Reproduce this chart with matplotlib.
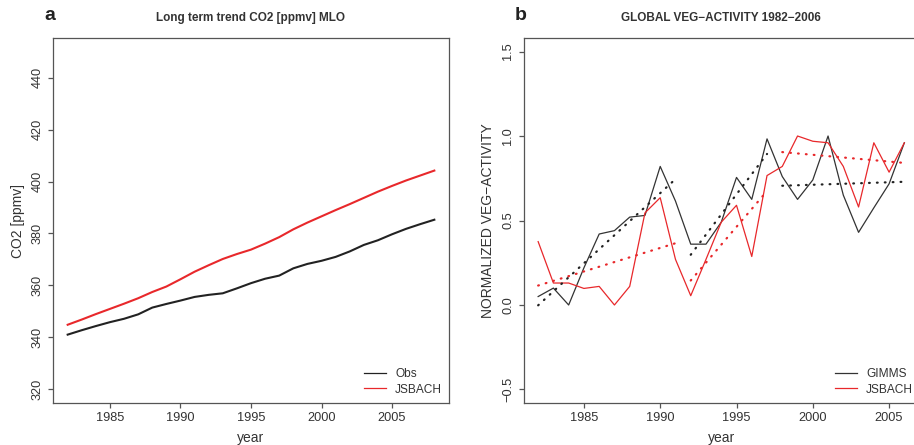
import numpy as np
import matplotlib
matplotlib.use("Agg")
import matplotlib.pyplot as plt

plt.rcParams['font.family'] = ['Liberation Sans', 'DejaVu Sans']

# ---- Panel a data ----
years_a = list(range(1982, 2009))
co2_obs = [341.1, 342.8, 344.4, 345.9, 347.2, 348.9, 351.5, 352.9, 354.2, 355.6,
           356.4, 357.0, 358.9, 360.9, 362.6, 363.8, 366.6, 368.3, 369.5, 371.0,
           373.1, 375.6, 377.4, 379.7, 381.8, 383.6, 385.3]
co2_jsbach = [344.9, 346.9, 349.0, 351.0, 353.0, 355.1, 357.5, 359.6, 362.4, 365.3,
              367.8, 370.2, 372.1, 373.8, 376.1, 378.6, 381.6, 384.2, 386.6, 389.0,
              391.3, 393.7, 396.1, 398.3, 400.4, 402.3, 404.2]

# ---- Panel b data ----
years_b = list(range(1982, 2007))
veg_gimms = [0.05, 0.10, 0.00, 0.22, 0.42, 0.44, 0.52, 0.53, 0.82, 0.615,
             0.36, 0.36, 0.49, 0.755, 0.625, 0.983, 0.76, 0.625, 0.74, 1.00,
             0.65, 0.43, 0.575, 0.717, 0.96]
veg_jsbach = [0.375, 0.13, 0.13, 0.098, 0.11, 0.00, 0.11, 0.545, 0.635, 0.27,
              0.055, 0.27, 0.49, 0.59, 0.287, 0.766, 0.82, 1.00, 0.969, 0.96,
              0.82, 0.58, 0.96, 0.786, 0.96]
trend_periods = [(1982, 1991), (1992, 1997), (1998, 2006)]

RED = '#e8282b'
AXC = '#555555'
TXT = '#333333'

fig = plt.figure(figsize=(9.14, 4.45), dpi=100)
W, H = 914, 445

def style(ax):
    for s in ax.spines.values():
        s.set_color(AXC)
        s.set_linewidth(0.9)
    ax.tick_params(axis='both', direction='out', length=3.6, width=0.9, color=AXC,
                   labelsize=9.2, labelcolor=TXT, pad=3)
    for lab in ax.get_yticklabels():
        lab.set_rotation(90)
        lab.set_va('center')

def legend(ax, labels, x_line, y_top):
    # place legend by pixel positions (line start x, top of first row y)
    lg = ax.legend(labels, loc='upper left', frameon=False, fontsize=8.6,
                   handlelength=1.85, handletextpad=0.75, labelspacing=0.3,
                   borderaxespad=0, borderpad=0, labelcolor=TXT,
                   bbox_to_anchor=(x_line / W, 1 - y_top / H),
                   bbox_transform=fig.transFigure)
    for l in lg.get_lines():
        l.set_linewidth(0.9)
    return lg

# Panel a
axa = fig.add_axes([53 / W, (H - 403) / H, (449 - 53) / W, (403 - 38) / H])
axa.plot(years_a, co2_obs, color='#222222', lw=1.5)
axa.plot(years_a, co2_jsbach, color=RED, lw=1.5)
axa.set_xlim(1982 - 26 * 0.04, 2008 + 26 * 0.04)
axa.set_ylim(320 - 130 * 0.04, 450 + 130 * 0.04)
axa.set_xticks([1985, 1990, 1995, 2000, 2005])
axa.set_yticks([320, 340, 360, 380, 400, 420, 440])
style(axa)
axa.set_xlabel('year', fontsize=10, color=TXT, labelpad=5)
axa.set_ylabel('CO2 [ppmv]', fontsize=10, color=TXT, labelpad=5)
axa.set_title('Long term trend CO2 [ppmv] MLO', fontsize=8.5, fontweight='bold',
              color=TXT, pad=12.5)
legend(axa, ['Obs', 'JSBACH'], 364, 368)
fig.text(50 / W, 1 - 15 / H, 'a', fontsize=14, fontweight='bold', color='#222222',
         ha='center', va='center')

# Panel b
axb = fig.add_axes([523.5 / W, (H - 403) / H, (919 - 523.5) / W, (403 - 38) / H])
axb.plot(years_b, veg_gimms, color='#333333', lw=0.9)
axb.plot(years_b, veg_jsbach, color=RED, lw=0.9)
yb = np.array(years_b)
for series, col in [(veg_gimms, '#222222'), (veg_jsbach, RED)]:
    arr = np.array(series)
    for (a, b) in trend_periods:
        m = (yb >= a) & (yb <= b)
        p = np.polyfit(yb[m], arr[m], 1)
        axb.plot(yb[m], np.polyval(p, yb[m]), color=col, lw=1.6,
                 linestyle=(0, (0.35, 3.2)), dash_capstyle='round')
axb.set_xlim(1982 - 24 * 0.04, 2006 + 24 * 0.04)
axb.set_ylim(-0.5 - 2 * 0.04, 1.5 + 2 * 0.04)
axb.set_xticks([1985, 1990, 1995, 2000, 2005])
axb.set_yticks([-0.5, 0.0, 0.5, 1.0, 1.5])
axb.set_yticklabels(['\u22120.5', '0.0', '0.5', '1.0', '1.5'])
style(axb)
axb.set_xlabel('year', fontsize=10, color=TXT, labelpad=5)
axb.set_ylabel('NORMALIZED VEG\u2212ACTIVITY', fontsize=10, color=TXT, labelpad=5)
axb.set_title('GLOBAL VEG\u2212ACTIVITY 1982\u22122006', fontsize=8.5,
              fontweight='bold', color=TXT, pad=12.5)
fig.text(521 / W, 1 - 15 / H, 'b', fontsize=14, fontweight='bold', color='#222222',
         ha='center', va='center')
legend(axb, ['GIMMS', 'JSBACH'], 835, 368)

fig.savefig('out.png', dpi=100)
